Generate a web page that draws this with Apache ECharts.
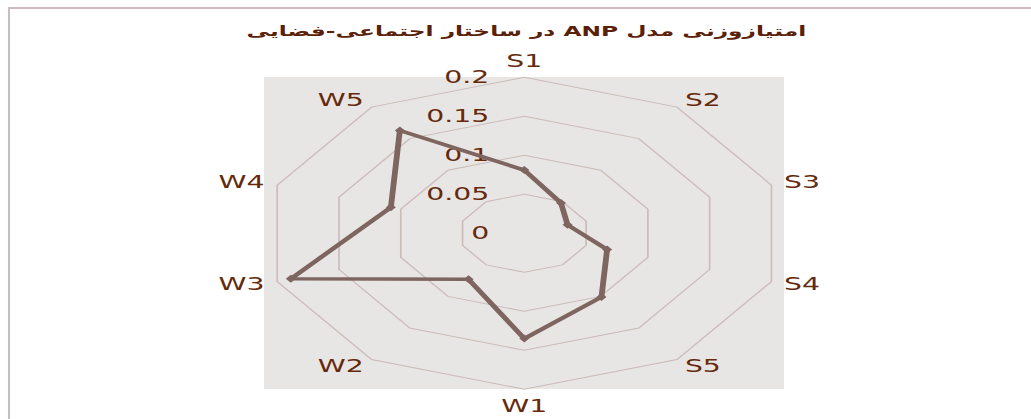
<!DOCTYPE html>
<html>
<head>
<meta charset="utf-8">
<script src="https://cdn.jsdelivr.net/npm/echarts@6/dist/echarts.min.js"></script>
<style>
  html, body { margin: 0; padding: 0; background: #fff; overflow: hidden; }
  .edge { position: absolute; background: #cbbdbd; }
  #edgeTop { left: 8px; top: 7px; width: 1023px; height: 2px; }
  #edgeLeft { left: 8px; top: 7px; width: 2px; height: 412px; }
  /* the source picture is stretched sideways, so the chart is too */
  #chart { position: absolute; left: 0; top: 0; width: 619px; height: 419px;
           transform: scaleX(1.6656); transform-origin: 0 0; }
</style>
</head>
<body>
<div class="edge" id="edgeTop"></div>
<div class="edge" id="edgeLeft"></div>
<div id="chart"></div>
<script>
var titleText = 'امتیازوزنی مدل ANP در ساختار اجتماعی-فضایی';
var names = ['S1', 'S2', 'S3', 'S4', 'S5', 'W1', 'W2', 'W3', 'W4', 'W5'];
var scores = [0.081, 0.048, 0.035, 0.067, 0.101, 0.135, 0.073, 0.189, 0.108, 0.163];
var axisMax = 0.2;

var textColor = '#652a0c';
var lineColor = '#7f6560';

// echarts walks the indicators counter-clockwise, the picture goes clockwise
var order = [0];
for (var i = names.length - 1; i > 0; i--) order.push(i);

var indicators = [];
var values = [];
for (var k = 0; k < order.length; k++) {
  var ind = { name: names[order[k]], min: 0, max: axisMax };
  if (k === 0) {
    ind.axisLabel = { show: true };
  }
  indicators.push(ind);
  values.push(scores[order[k]]);
}

var chart = echarts.init(document.getElementById('chart'), null, { renderer: 'svg' });
chart.setOption({
  backgroundColor: 'transparent',
  animation: false,
  title: {
    text: '\u202B' + titleText + '\u202C',
    left: 311,
    textAlign: 'center',
    top: 19,
    textStyle: {
      fontFamily: 'DejaVu Sans',
      fontWeight: 'bold',
      fontSize: 14,
      color: '#5b2108'
    }
  },
  graphic: [{
    type: 'rect',
    z: -10,
    shape: { x: 158.5, y: 77, width: 312.2, height: 312 },
    style: { fill: '#e8e6e4' }
  }],
  radar: {
    center: [314.8, 233.3],
    radius: 156,
    startAngle: 90,
    shape: 'polygon',
    splitNumber: 4,
    nameGap: 8,
    axisName: {
      color: textColor,
      fontFamily: 'DejaVu Sans',
      fontSize: 17
    },
    axisLine: { show: false },
    axisTick: { show: false },
    axisLabel: {
      show: false,
      margin: 21,
      color: textColor,
      fontFamily: 'DejaVu Sans',
      fontSize: 17
    },
    splitLine: { lineStyle: { color: '#cbbcb9', width: 1 } },
    splitArea: { show: false },
    indicator: indicators
  },
  series: [{
    type: 'radar',
    symbol: 'diamond',
    symbolSize: [6, 8],
    lineStyle: { color: lineColor, width: 3.5 },
    itemStyle: { color: lineColor },
    data: [{ value: values, name: 'ANP' }]
  }]
});
</script>
</body>
</html>
